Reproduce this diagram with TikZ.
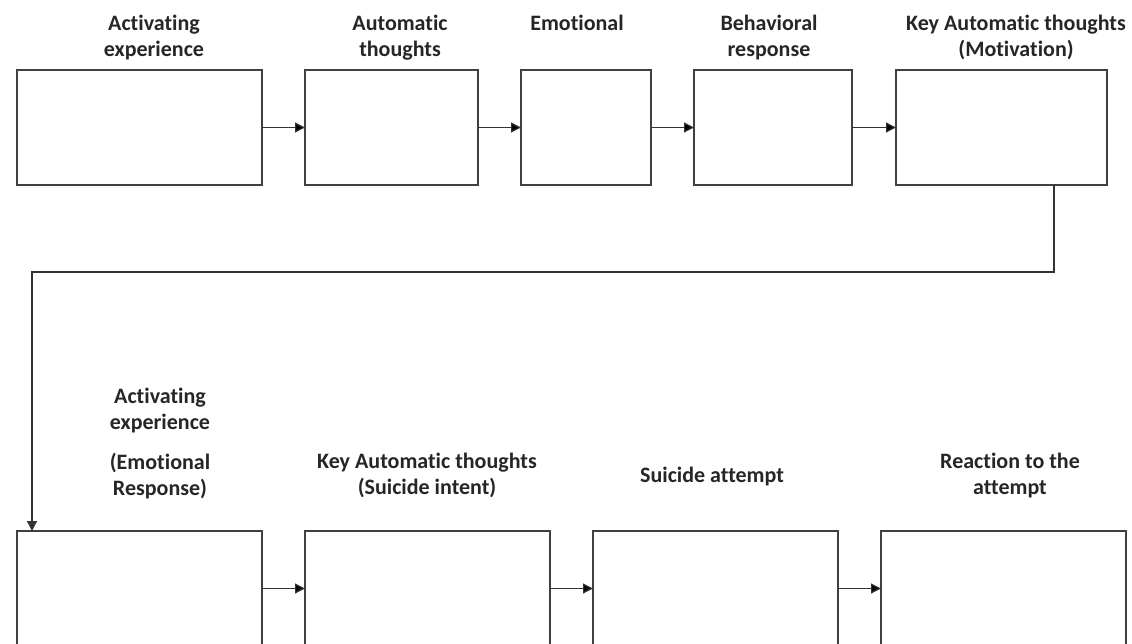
\documentclass[tikz,border=0pt]{standalone}
\usepackage{fontspec}
\setmainfont[Ligatures=CommonOff]{Carlito}
\usepackage{tikz}
\usetikzlibrary{positioning,arrows.meta}

\tikzset{
  stage/.style={draw=black!75, line width=1.2pt, inner sep=0pt, outer sep=0pt, minimum height=115pt},
  caption/.style={anchor=north, inner sep=0pt, align=center, text=black!85,
    font=\fontsize{22}{26}\selectfont\bfseries},
  >={Triangle[length=10pt,width=10pt]}
}

\begin{document}
\begin{tikzpicture}[x=1pt, y=-1pt, node distance=43pt]
  \useasboundingbox (0,0) rectangle (1132,644);
  \clip (0,0) rectangle (1132,644);
  % first row
  \node (k1) [stage, minimum width=245pt, anchor=north west] at (17,70) {};
  \node (k2) [stage, minimum width=173pt, right=of k1] {};
  \node (k3) [stage, minimum width=130pt, right=of k2] {};
  \node (k4) [stage, minimum width=158pt, right=of k3] {};
  \node (k5) [stage, minimum width=211pt, right=44pt of k4] {};
  % second row
  \node (b1) [stage, minimum width=245pt, anchor=north west] at (17,531) {};
  \node (b2) [stage, minimum width=245pt, right=of b1] {};
  \node (b3) [stage, minimum width=245pt, right=of b2] {};
  \node (b4) [stage, minimum width=245pt, right=of b3] {};
  % captions
  \node (lk1) [caption] at (154,15) {Activating\\experience};
  \node (lk2) [caption] at (400,15) {Automatic\\thoughts};
  \node (lk3) [caption] at (577,15) {Emotional};
  \node (lk4) [caption] at (769,15) {Behavioral\\response};
  \node (lk5) [caption] at (1016,15) {Key Automatic thoughts\\(Motivation)};
  \node (lb1) [caption] at (160,388) {Activating\\experience\\[14pt](Emotional\\Response)};
  \node (lb2) [caption] at (427,453) {Key Automatic thoughts\\(Suicide intent)};
  \node (lb3) [caption] at (712,467) {Suicide attempt};
  \node (lb4) [caption] at (1010,453) {Reaction to the\\attempt};
  % links
  \coordinate (drop) at ([xshift=52.5pt]k5.south);
  \coordinate (bend) at (32,272);
  \coordinate (land) at ([xshift=15pt]b1.north west);
  \path[->, draw=black!80, line width=1.2pt]
  (k1) edge (k2)
  (k2) edge (k3)
  (k3) edge (k4)
  (k4) edge (k5)
  (b1) edge (b2)
  (b2) edge (b3)
  (b3) edge (b4)
  ;
  \draw[->, black!80, line width=1.2pt] (drop) |- (bend) -- (land);
\end{tikzpicture}
\end{document}
